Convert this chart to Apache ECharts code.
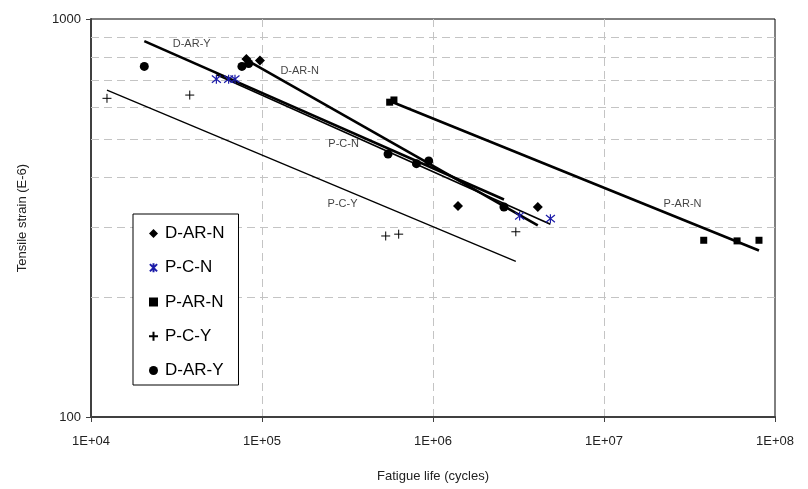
<!DOCTYPE html>
<html>
<head>
<meta charset="utf-8">
<script src="https://cdn.jsdelivr.net/npm/echarts@6/dist/echarts.min.js"></script>
<style>html,body{margin:0;padding:0;background:#fff;}#c{width:808px;height:489px;}</style>
</head>
<body>
<div id="c"></div>
<script>
// ---- data ----
const xTickLabels = ['1E+04', '1E+05', '1E+06', '1E+07', '1E+08'];
const yTickLabels = ['100', '1000'];
const yMinorGrid = [200, 300, 400, 500, 600, 700, 800, 900];

const seriesNames = ['D-AR-N', 'P-C-N', 'P-AR-N', 'P-C-Y', 'D-AR-Y'];

const dArN = [[81000, 793], [97300, 786], [1.4e6, 339], [4.1e6, 337]];
const pCN = [[54100, 706], [63800, 706], [69500, 706], [3.21e6, 320], [4.86e6, 315]];
const pArN = [[5.58e5, 618], [5.91e5, 626], [3.83e7, 278], [6.0e7, 277], [8.06e7, 278]];
const pCY = [[12400, 632], [37800, 644], [5.29e5, 285], [6.3e5, 288], [3.05e6, 292]];
const dArY = [[20500, 760], [76300, 760], [83600, 773], [5.46e5, 458], [8.0e5, 433], [9.44e5, 440], [2.6e6, 337]];

// regression (trend) lines: endpoints
const trendDArY = [[20500, 880], [2.6e6, 352]];
const trendDArN = [[81000, 789], [4.1e6, 303]];
const trendPCN = [[54100, 724], [4.86e6, 305]];
const trendPArN = [[5.58e5, 622], [8.06e7, 262]];
const trendPCY = [[12400, 663], [3.05e6, 246]];

// line labels
const annoText = ['D-AR-Y', 'D-AR-N', 'P-C-N', 'P-C-Y', 'P-AR-N'];
const annoX = [38800, 166000, 3.0e5, 2.96e5, 2.88e7];
const annoY = [865, 740, 485, 343, 343];

// ---- chart ----
const FONT = 'Liberation Sans, Arial, sans-serif';
const chart = echarts.init(document.getElementById('c'), null, { renderer: 'canvas' });

const plusPath = 'path://M-5,0L5,0M0,-5L0,5';
const starPath = 'path://M0,-5L0,5M-4,-4L4,4M-4,4L4,-4';
const blue = '#1c1ca8';

function trend(name, data, width) {
  return {
    name: name, type: 'line', data: data, symbol: 'none', silent: true,
    lineStyle: { color: '#000', width: width }, z: 3
  };
}

const option = {
  animation: false,
  backgroundColor: '#fff',
  grid: { left: 91, right: 33, top: 19, bottom: 72, show: true, borderColor: '#000', borderWidth: 1 },
  xAxis: {
    type: 'log', logBase: 10, min: 1e4, max: 1e8,
    name: 'Fatigue life (cycles)', nameLocation: 'middle', nameGap: 53,
    nameTextStyle: { fontFamily: FONT, fontSize: 13, color: '#222' },
    axisLine: { show: true, lineStyle: { color: '#404040', width: 2 } },
    axisTick: { show: true, inside: false, length: 5, lineStyle: { color: '#404040', width: 1 } },
    axisLabel: {
      fontFamily: FONT, fontSize: 13, color: '#222', margin: 18,
      formatter: function (v) { return xTickLabels[Math.round(Math.log10(v)) - 4]; }
    },
    splitLine: { show: true, showMinLine: false, showMaxLine: false,
      lineStyle: { type: [8, 5], color: '#c4c4c4', width: 1 } }
  },
  yAxis: {
    type: 'log', logBase: 10, min: 100, max: 1000,
    name: 'Tensile strain (E-6)', nameLocation: 'middle', nameGap: 62,
    nameTextStyle: { fontFamily: FONT, fontSize: 13, color: '#222' },
    axisLine: { show: true, lineStyle: { color: '#404040', width: 2 } },
    axisTick: { show: true, inside: false, length: 5, lineStyle: { color: '#404040', width: 1 } },
    axisLabel: {
      fontFamily: FONT, fontSize: 13, color: '#222', margin: 10,
      formatter: function (v) { return yTickLabels[Math.round(Math.log10(v)) - 2]; }
    },
    splitLine: { show: false }
  },
  legend: {
    orient: 'vertical', left: 133, top: 214, z: 20,
    data: seriesNames,
    itemWidth: 9, itemHeight: 9, itemGap: 17.25,
    padding: [11, 14, 6, 15],
    borderColor: '#000', borderWidth: 1, backgroundColor: '#fff',
    textStyle: { fontFamily: FONT, fontSize: 17, color: '#000', padding: [0, 0, 0, 2] }
  },
  series: [
    {
      name: 'grid-minor', type: 'line', data: [], silent: true, z: 1,
      markLine: {
        silent: true, symbol: ['none', 'none'], animation: false, z: 1,
        label: { show: false },
        lineStyle: { type: [8, 5], color: '#c4c4c4', width: 1 },
        data: yMinorGrid.map(function (v) { return { yAxis: v }; })
      }
    },
    trend('D-AR-Y line', trendDArY, 2.6),
    trend('D-AR-N line', trendDArN, 2.6),
    trend('P-C-N line', trendPCN, 1.6),
    trend('P-AR-N line', trendPArN, 2.6),
    trend('P-C-Y line', trendPCY, 1.3),
    { name: 'D-AR-N', type: 'scatter', data: dArN, symbol: 'diamond', symbolSize: 10,
      itemStyle: { color: '#000', opacity: 1 }, z: 4 },
    { name: 'P-C-N', type: 'scatter', data: pCN, symbol: starPath, symbolSize: 9,
      itemStyle: { color: 'rgba(0,0,0,0)', borderColor: blue, borderWidth: 1.2, opacity: 1 }, z: 4 },
    { name: 'P-AR-N', type: 'scatter', data: pArN, symbol: 'rect', symbolSize: 7,
      itemStyle: { color: '#000', opacity: 1 }, z: 4 },
    { name: 'P-C-Y', type: 'scatter', data: pCY, symbol: plusPath, symbolSize: 9,
      itemStyle: { color: 'rgba(0,0,0,0)', borderColor: '#000', borderWidth: 1, opacity: 1 }, z: 4 },
    { name: 'D-AR-Y', type: 'scatter', data: dArY, symbol: 'circle', symbolSize: 9,
      itemStyle: { color: '#000', opacity: 1 }, z: 4 },
    {
      name: 'labels', type: 'scatter', symbolSize: 0, silent: true, z: 5,
      data: annoText.map(function (t, i) { return { name: t, value: [annoX[i], annoY[i]] }; }),
      label: { show: true, position: 'inside', formatter: '{b}', fontFamily: FONT, fontSize: 11, color: '#111' }
    }
  ]
};
chart.setOption(option);
</script>
</body>
</html>
